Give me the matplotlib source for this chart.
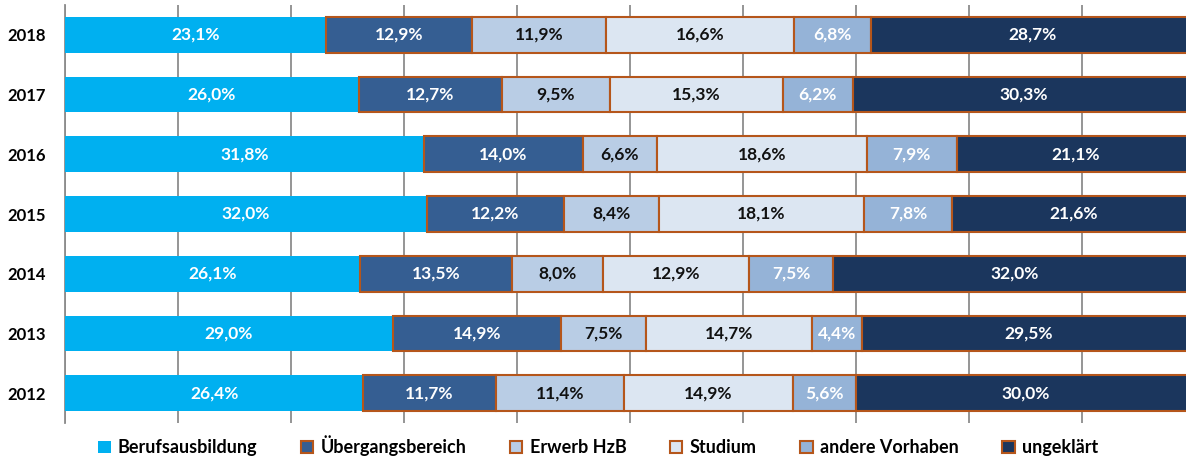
import matplotlib.pyplot as plt
import numpy as np

plt.rcParams['font.family'] = ['Lato', 'DejaVu Sans']

years = ['2018', '2017', '2016', '2015', '2014', '2013', '2012']
categories = ['Berufsausbildung', 'Übergangsbereich', 'Erwerb HzB',
              'Studium', 'andere Vorhaben', 'ungeklärt']

berufsausbildung = [23.1, 26.0, 31.8, 32.0, 26.1, 29.0, 26.4]
uebergangsbereich = [12.9, 12.7, 14.0, 12.2, 13.5, 14.9, 11.7]
erwerb_hzb = [11.9, 9.5, 6.6, 8.4, 8.0, 7.5, 11.4]
studium = [16.6, 15.3, 18.6, 18.1, 12.9, 14.7, 14.9]
andere_vorhaben = [6.8, 6.2, 7.9, 7.8, 7.5, 4.4, 5.6]
ungeklaert = [28.7, 30.3, 21.1, 21.6, 32.0, 29.5, 30.0]

series = [berufsausbildung, uebergangsbereich, erwerb_hzb,
          studium, andere_vorhaben, ungeklaert]
colors = ['#00B0F0', '#355E92', '#B9CDE5', '#DCE6F2', '#95B3D7', '#1B365D']
text_colors = ['white', 'white', '#111111', '#111111', 'white', 'white']
edge = '#B5561B'

fig = plt.figure(figsize=(11.86, 4.59), dpi=100)
ax = fig.add_axes([65 / 1186, 36 / 459, 1130 / 1186, 418 / 459])

y = np.arange(len(years))[::-1]
left = np.zeros(len(years))
for i, (name, vals) in enumerate(zip(categories, series)):
    vals = np.array(vals)
    ec = 'none' if i == 0 else edge
    ax.barh(y, vals, left=left, height=0.6, color=colors[i],
            edgecolor=ec, linewidth=1.5, label=name, zorder=3)
    for yy, l, v in zip(y, left, vals):
        ax.text(l + v / 2, yy, f"{v:.1f}".replace('.', ',') + '%',
                ha='center', va='center', color=text_colors[i],
                fontsize=12.5, fontweight='bold', zorder=4)
    left += vals

ax.set_xlim(0, 100)
ax.set_ylim(-0.5, len(years) - 0.5)
ax.set_xticks(np.arange(0, 101, 10))
ax.set_xticklabels([])
ax.tick_params(axis='x', length=0)
ax.set_yticks(y)
ax.set_yticklabels(years, fontsize=12, fontweight='bold')
ax.tick_params(axis='y', length=0, pad=14)
ax.grid(axis='x', color='#8C8C8C', linewidth=1.3, zorder=0)
for s in ['top', 'right', 'bottom']:
    ax.spines[s].set_visible(False)
ax.spines['left'].set_color('#8C8C8C')
ax.spines['left'].set_linewidth(1.3)

ax.legend(loc='center', bbox_to_anchor=(598 / 1186, 13 / 459),
          bbox_transform=fig.transFigure, ncol=6, frameon=False,
          handlelength=0.7, handleheight=0.7, handletextpad=0.4,
          columnspacing=2.4, prop={'size': 13, 'weight': 'bold'})

fig.savefig('out.png', dpi=100)
